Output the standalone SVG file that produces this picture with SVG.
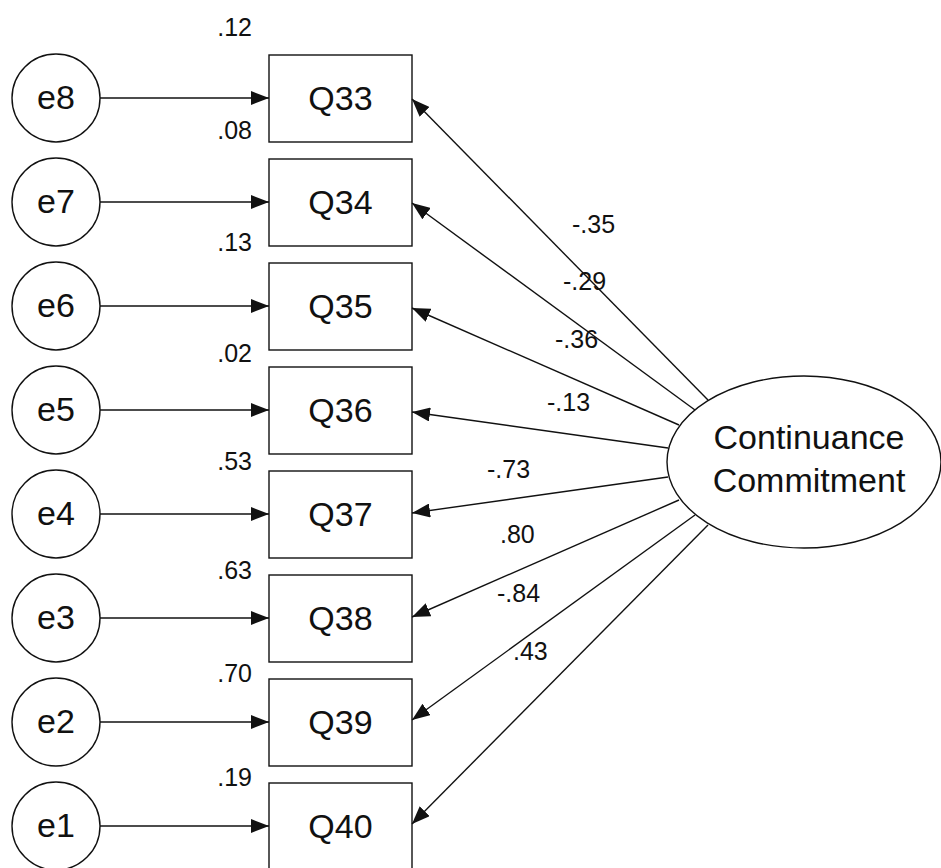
<svg xmlns="http://www.w3.org/2000/svg" width="941" height="868" viewBox="0 0 941 868">
  <style>
    .shape { fill: #ffffff; stroke: #111111; stroke-width: 1.4; }
    .link { fill: none; stroke: #111111; stroke-width: 1.4; marker-end: url(#head); }
    .name { font-family: "Liberation Sans", Arial, sans-serif; font-size: 34px; fill: #111111; text-anchor: middle; }
    .coef { font-family: "Liberation Sans", Arial, sans-serif; font-size: 25px; fill: #111111; }
    .r2 { text-anchor: end; }
  </style>
  <defs>
    <marker id="head" viewBox="0 0 18 14" refX="18" refY="7" markerWidth="18" markerHeight="14" markerUnits="userSpaceOnUse" orient="auto">
      <path d="M0,0 L18,7 L0,14 z" fill="#111111"/>
    </marker>
  </defs>

  <rect width="941" height="868" fill="#ffffff"/>

  <!-- error terms -->
  <g id="e8"><circle class="shape" cx="56" cy="98" r="44"/><text class="name" x="56" y="109">e8</text></g>
  <g id="e7"><circle class="shape" cx="56" cy="202" r="44"/><text class="name" x="56" y="213">e7</text></g>
  <g id="e6"><circle class="shape" cx="56" cy="306" r="44"/><text class="name" x="56" y="317">e6</text></g>
  <g id="e5"><circle class="shape" cx="56" cy="410" r="44"/><text class="name" x="56" y="421">e5</text></g>
  <g id="e4"><circle class="shape" cx="56" cy="514" r="44"/><text class="name" x="56" y="525">e4</text></g>
  <g id="e3"><circle class="shape" cx="56" cy="618" r="44"/><text class="name" x="56" y="629">e3</text></g>
  <g id="e2"><circle class="shape" cx="56" cy="722" r="44"/><text class="name" x="56" y="733">e2</text></g>
  <g id="e1"><circle class="shape" cx="56" cy="826" r="44"/><text class="name" x="56" y="837">e1</text></g>

  <!-- observed items -->
  <g id="Q33"><rect class="shape" x="269" y="55" width="143" height="87"/><text class="name" x="340.5" y="110">Q33</text></g>
  <g id="Q34"><rect class="shape" x="269" y="159" width="143" height="87"/><text class="name" x="340.5" y="214">Q34</text></g>
  <g id="Q35"><rect class="shape" x="269" y="263" width="143" height="87"/><text class="name" x="340.5" y="318">Q35</text></g>
  <g id="Q36"><rect class="shape" x="269" y="367" width="143" height="87"/><text class="name" x="340.5" y="422">Q36</text></g>
  <g id="Q37"><rect class="shape" x="269" y="471" width="143" height="87"/><text class="name" x="340.5" y="526">Q37</text></g>
  <g id="Q38"><rect class="shape" x="269" y="575" width="143" height="87"/><text class="name" x="340.5" y="630">Q38</text></g>
  <g id="Q39"><rect class="shape" x="269" y="679" width="143" height="87"/><text class="name" x="340.5" y="734">Q39</text></g>
  <g id="Q40"><rect class="shape" x="269" y="783" width="143" height="87"/><text class="name" x="340.5" y="838">Q40</text></g>

  <!-- latent factor -->
  <g id="continuance">
    <ellipse class="shape" cx="804" cy="462" rx="137" ry="86"/>
    <text class="name" x="809" y="449">Continuance</text>
    <text class="name" x="809" y="492">Commitment</text>
  </g>

  <!-- paths -->
  <g id="connectors">
    <path class="link" d="M100,98 H269"/>
    <path class="link" d="M100,202 H269"/>
    <path class="link" d="M100,306 H269"/>
    <path class="link" d="M100,410 H269"/>
    <path class="link" d="M100,514 H269"/>
    <path class="link" d="M100,618 H269"/>
    <path class="link" d="M100,722 H269"/>
    <path class="link" d="M100,826 H269"/>

    <path class="link" d="M708,400 L412,99"/>
    <path class="link" d="M695,410 L412,203"/>
    <path class="link" d="M679,425 L412,308"/>
    <path class="link" d="M668,448 L412,412"/>
    <path class="link" d="M668,477 L412,513"/>
    <path class="link" d="M679,500 L412,617"/>
    <path class="link" d="M695,515 L412,720"/>
    <path class="link" d="M708,525 L412,824"/>
  </g>

  <!-- squared multiple correlations -->
  <g id="r2-labels">
    <text class="coef r2" x="252" y="36">.12</text>
    <text class="coef r2" x="252" y="139">.08</text>
    <text class="coef r2" x="252" y="251">.13</text>
    <text class="coef r2" x="252" y="362">.02</text>
    <text class="coef r2" x="252" y="470">.53</text>
    <text class="coef r2" x="252" y="579">.63</text>
    <text class="coef r2" x="252" y="682">.70</text>
    <text class="coef r2" x="252" y="786">.19</text>
  </g>

  <!-- standardized loadings -->
  <g id="loading-labels">
    <text class="coef" x="572" y="233">-.35</text>
    <text class="coef" x="563" y="290">-.29</text>
    <text class="coef" x="555" y="348">-.36</text>
    <text class="coef" x="547" y="411">-.13</text>
    <text class="coef" x="487" y="478">-.73</text>
    <text class="coef" x="500" y="543">.80</text>
    <text class="coef" x="497" y="602">-.84</text>
    <text class="coef" x="513" y="660">.43</text>
  </g>
</svg>
